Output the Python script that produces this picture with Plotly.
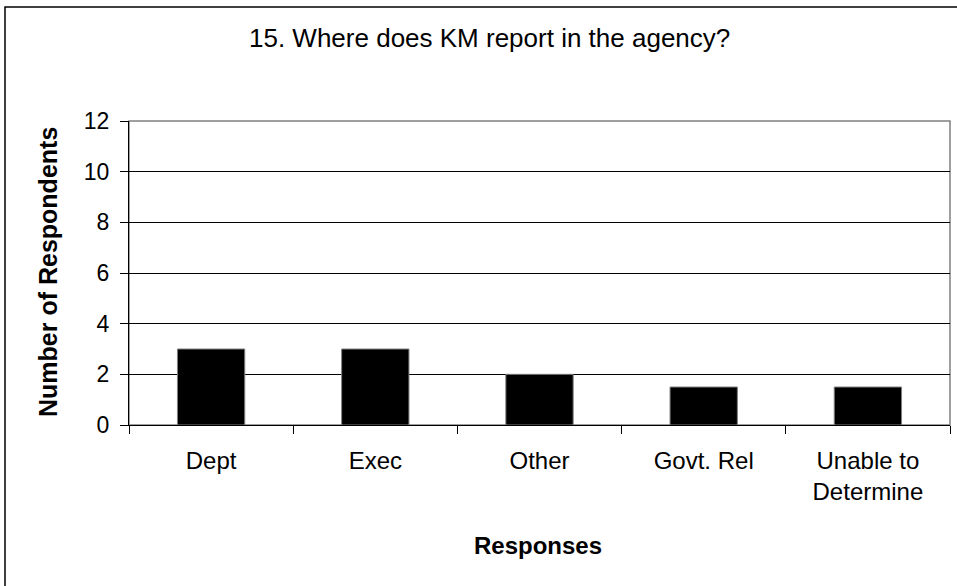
import plotly.graph_objects as go

categories = ["Dept", "Exec", "Other", "Govt. Rel", "Unable to<br>Determine"]
values = [3, 3, 2, 1.5, 1.5]
y_ticks = [0, 2, 4, 6, 8, 10, 12]

FONT = "Liberation Sans, Arial, sans-serif"

W, H = 957, 586
L, R, T, B = 129, 7, 121, 161   # plot area: x 129..950, y 121..425
pw = W - L - R
ph = H - T - B


def px(x):
    return (x - L) / pw


def py(y):
    return 1 - (y - T) / ph


fig = go.Figure()
fig.add_trace(go.Bar(
    x=categories, y=values,
    marker=dict(color="black", line=dict(color="#808080", width=1)),
    width=0.41,
))

fig.update_layout(
    width=W, height=H,
    margin=dict(l=L, r=R, t=T, b=B),
    paper_bgcolor="white", plot_bgcolor="white",
    showlegend=False,
    font=dict(family=FONT, size=24, color="black"),
    xaxis=dict(
        showline=True, linecolor="black", linewidth=1,
        ticks="outside", ticklen=8, tickcolor="black",
        tickson="boundaries", showgrid=False,
        tickfont=dict(size=24, family=FONT),
        ticklabelstandoff=14,
    ),
    yaxis=dict(
        range=[0, 12], tickvals=y_ticks, ticktext=[str(v) for v in y_ticks],
        showline=True, linecolor="black", linewidth=1,
        ticks="outside", ticklen=8, tickcolor="black",
        showgrid=True, gridcolor="black", gridwidth=1,
        zeroline=False,
        tickfont=dict(size=23, family=FONT),
        ticklabelstandoff=6,
    ),
    shapes=[
        dict(type="rect", xref="paper", yref="paper", x0=0, x1=1, y0=0, y1=1,
             line=dict(color="#808080", width=1.5), layer="below"),
        dict(type="rect", xref="paper", yref="paper",
             x0=px(5), x1=px(W + 20), y0=py(H + 20), y1=py(7),
             line=dict(color="black", width=1.5)),
    ],
    annotations=[
        dict(text="15. Where does KM report in the agency?", xref="paper", yref="paper",
             x=px(489), y=py(38), showarrow=False,
             xanchor="center", yanchor="middle", font=dict(size=26, family=FONT)),
        dict(text="<b>Number of Respondents</b>", xref="paper", yref="paper",
             x=px(48), y=py(272), showarrow=False, textangle=-90,
             xanchor="center", yanchor="middle", font=dict(size=25, family=FONT)),
        dict(text="<b>Responses</b>", xref="paper", yref="paper",
             x=px(538), y=py(545), showarrow=False,
             xanchor="center", yanchor="middle", font=dict(size=24, family=FONT)),
    ],
)

fig.write_html("out.html", config={"displayModeBar": False},
               post_script="document.body.style.margin='0px';")
